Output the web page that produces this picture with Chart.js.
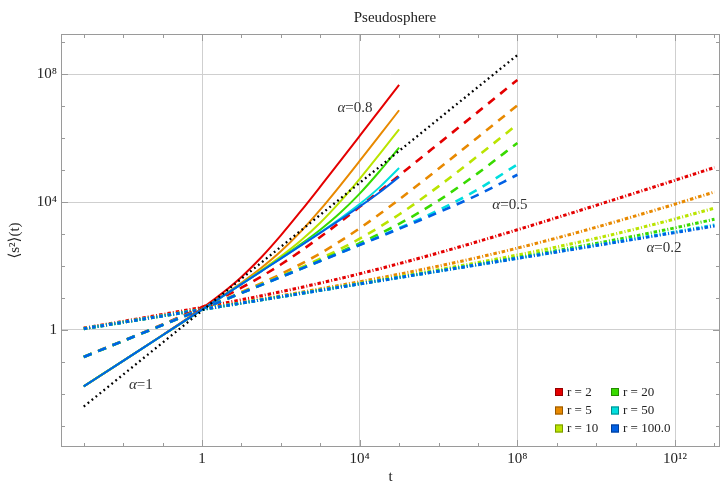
<!DOCTYPE html>
<html>
<head>
<meta charset="utf-8">
<script src="https://cdn.jsdelivr.net/npm/chart.js@4.4.1/dist/chart.umd.min.js"></script>
<style>
html,body{margin:0;padding:0;background:#fff;}
#wrap{width:721px;height:488px;position:relative;}
</style>
</head>
<body>
<div id="wrap"><canvas id="c" width="721" height="488"></canvas></div>
<script>
// ---- data ----
const radii = ['2', '5', '10', '20', '50', '100.0'];
const colors = ['rgb(228,0,0)', 'rgb(232,137,0)', 'rgb(186,228,0)', 'rgb(56,218,0)', 'rgb(0,222,222)', 'rgb(0,96,228)'];
const borderColors = ['rgb(150,0,0)', 'rgb(150,88,0)', 'rgb(120,150,0)', 'rgb(36,140,0)', 'rgb(0,140,140)', 'rgb(0,60,150)'];

// alpha = 0.8 (solid)
const t08 = [0.001, 0.01, 0.1, 1, 3.162, 10, 31.62, 100, 316.2, 1000, 3162, 10000, 31623, 100000];
const s08_r2   = [0.0171, 0.1082, 0.6924, 4.761, 13.73, 45.67, 185.2, 910.2, 5093, 30504, 188368, 1178000, 7409000, 46680000];
const s08_r5   = [0.0171, 0.1079, 0.6826, 4.370, 11.26, 30.07, 86.81, 289.3, 1176, 5787, 32415, 194250, 1200000, 7505000];
const s08_r10  = [0.0171, 0.1079, 0.6812, 4.314, 10.91, 27.84, 72.76, 200.6, 616.0, 2256, 10136, 53670, 312800, 1908000];
const s08_r20  = [0.0171, 0.1079, 0.6808, 4.300, 10.82, 27.29, 69.24, 178.4, 476.1, 1373, 4567, 18520, 91020, 509300];
const s08_r50  = [0.0171, 0.1079, 0.6807, 4.296, 10.79, 27.13, 68.26, 172.2, 437.0, 1126, 3007, 8681, 28927, 117566];
const s08_r100 = [0.0171, 0.1079, 0.6807, 4.295, 10.79, 27.11, 68.12, 171.3, 431.4, 1091, 2784, 7276, 20056, 61604];

// alpha = 0.5 (dashed)
const t05 = [1e-3, 1e-2, 1e-1, 1, 10, 100, 1e3, 1e4, 1e5, 1e6, 1e7, 1e8];
const s05_r2   = [0.1434, 0.4581, 1.494, 5.181, 20.94, 111.8, 809.4, 7118, 68094, 671181, 6681000, 66710000];
const s05_r5   = [0.1428, 0.4525, 1.438, 4.621, 15.34, 55.81, 249.4, 1518, 12094, 111181, 1080900, 10712000];
const s05_r10  = [0.1427, 0.4517, 1.430, 4.541, 14.54, 47.81, 169.4, 718.1, 4094, 31181, 280942, 2711800];
const s05_r20  = [0.1427, 0.4514, 1.428, 4.521, 14.34, 45.81, 149.4, 518.1, 2094, 11181, 80942, 711807];
const s05_r50  = [0.1427, 0.4514, 1.4275, 4.515, 14.28, 45.25, 143.8, 462.1, 1534, 5581, 24942, 151807];
const s05_r100 = [0.1427, 0.4514, 1.4275, 4.514, 14.28, 45.17, 143.0, 454.1, 1454, 4781, 16942, 71807];

// alpha = 0.2 (dot-dashed)
const t02 = [1e-3, 1e-2, 1e-1, 1, 10, 100, 1e3, 1e4, 1e5, 1e6, 1e7, 1e8, 1e9, 1e10, 1e11, 1e12, 1e13];
const s02_r2   = [1.142, 1.853, 3.048, 5.107, 8.791, 15.68, 29.25, 57.41, 118.7, 257.8, 583.5, 1364, 3266, 7950, 19564, 48504, 120822];
const s02_r5   = [1.102, 1.753, 2.797, 4.476, 7.206, 11.70, 19.25, 32.28, 55.58, 99.24, 185.3, 363.9, 753.5, 1638, 3710, 8680, 20788];
const s02_r10  = [1.096, 1.739, 2.761, 4.386, 6.980, 11.13, 17.82, 28.69, 46.57, 76.59, 128.4, 221.0, 394.6, 736.2, 1445, 2990, 6498];
const s02_r20  = [1.0945, 1.735, 2.752, 4.364, 6.923, 10.99, 17.46, 27.79, 44.31, 70.93, 114.2, 185.3, 304.8, 510.7, 879.1, 1568, 2925];
const s02_r50  = [1.094, 1.734, 2.749, 4.357, 6.907, 10.95, 17.36, 27.54, 43.68, 69.34, 110.2, 175.3, 279.7, 447.6, 720.6, 1170, 1925];
const s02_r100 = [1.094, 1.734, 2.749, 4.356, 6.905, 10.94, 17.345, 27.50, 43.59, 69.12, 109.6, 173.9, 276.1, 438.6, 698.0, 1113, 1782];

// alpha = 1 reference (black dotted)
const tRef = [0.001, 0.01, 0.1, 1, 10, 100, 1e3, 1e4, 1e5, 1e6, 1e7, 1e8];
const sRef = [0.004, 0.04, 0.4, 4, 40, 400, 4000, 40000, 400000, 4e6, 4e7, 4e8];

// annotation labels
const alphaTexts = ['0.8', '0.5', '0.2', '1'];
const alphaLabelT = [7586, 6.457e7, 5.248e11, 0.02818];
const alphaLabelS = [8.913e6, 8128, 371.5, 0.01905];

// axis ticks (decade exponents)
const xDecades = [-3,-2,-1,0,1,2,3,4,5,6,7,8,9,10,11,12,13];
const xMajor = [0, 4, 8, 12];
const yDecades = [-3,-2,-1,0,1,2,3,4,5,6,7,8,9];
const yMajor = [0, 4, 8];

// ---- build datasets ----
const toPts = (ts, vs) => ts.map((t, i) => ({x: t, y: vs[i]}));
const groups = [
  {t: t02, series: [s02_r2, s02_r5, s02_r10, s02_r20, s02_r50, s02_r100], dash: [3.5, 2, 1, 2], width: 3},
  {t: t05, series: [s05_r2, s05_r5, s05_r10, s05_r20, s05_r50, s05_r100], dash: [8.5, 7], width: 2.6},
  {t: t08, series: [s08_r2, s08_r5, s08_r10, s08_r20, s08_r50, s08_r100], dash: [], width: 2}
];
const datasets = [];
groups.forEach(g => {
  g.series.forEach((s, i) => {
    datasets.push({
      label: 'r = ' + radii[i],
      data: toPts(g.t, s),
      borderColor: colors[i],
      borderWidth: g.width,
      borderDash: g.dash,
      borderCapStyle: 'butt',
      pointRadius: 0,
      fill: false,
      cubicInterpolationMode: 'monotone'
    });
  });
});
datasets.push({
  label: 'alpha = 1',
  data: toPts(tRef, sRef),
  borderColor: '#000',
  borderWidth: 2.3,
  borderDash: [1.8, 3.3],
  borderCapStyle: 'butt',
  pointRadius: 0,
  fill: false
});
const N = datasets.length;
datasets.forEach((d, i) => { d.order = N - i; });

const supMap = {'0':'⁰','1':'¹','2':'²','3':'³','4':'⁴','5':'⁵','6':'⁶','7':'⁷','8':'⁸','9':'⁹','-':'⁻'};
const powLabel = k => k === 0 ? '1' : '10' + String(k).split('').map(c => supMap[c]).join('');

const SERIF = "'Liberation Serif', 'DejaVu Serif', serif";

const decoPlugin = {
  id: 'deco',
  afterDatasetsDraw(chart) {
    const {ctx, scales: {x, y}} = chart;
    ctx.save();
    ctx.fillStyle = '#333';
    ctx.textBaseline = 'middle';
    alphaTexts.forEach((txt, i) => {
      const px = x.getPixelForValue(alphaLabelT[i]);
      const py = y.getPixelForValue(alphaLabelS[i]);
      ctx.font = 'italic 15px ' + SERIF;
      const w1 = ctx.measureText('α').width;
      ctx.font = '15px ' + SERIF;
      const rest = '=' + txt;
      const w2 = ctx.measureText(rest).width;
      const x0 = px - (w1 + w2) / 2;
      ctx.textAlign = 'left';
      ctx.font = 'italic 15px ' + SERIF;
      ctx.fillText('α', x0, py);
      ctx.font = '15px ' + SERIF;
      ctx.fillText(rest, x0 + w1, py);
    });
    ctx.restore();
  },
  afterDraw(chart) {
    const {ctx, chartArea: a, scales: {x, y}} = chart;
    ctx.save();
    ctx.strokeStyle = '#9a9a9a';
    ctx.lineWidth = 1;
    ctx.beginPath();
    xDecades.forEach(k => {
      const px = Math.round(x.getPixelForValue(Math.pow(10, k))) + 0.5;
      if (px < a.left || px > a.right) return;
      const len = xMajor.includes(k) ? 7 : 4;
      ctx.moveTo(px, a.bottom); ctx.lineTo(px, a.bottom - len);
      ctx.moveTo(px, a.top); ctx.lineTo(px, a.top + len);
    });
    yDecades.forEach(k => {
      const py = Math.round(y.getPixelForValue(Math.pow(10, k))) + 0.5;
      if (py < a.top || py > a.bottom) return;
      const len = yMajor.includes(k) ? 7 : 4;
      ctx.moveTo(a.left, py); ctx.lineTo(a.left + len, py);
      ctx.moveTo(a.right, py); ctx.lineTo(a.right - len, py);
    });
    ctx.stroke();
    ctx.strokeRect(a.left + 0.5, a.top + 0.5, a.right - a.left - 1, a.bottom - a.top - 1);

    // title
    ctx.fillStyle = '#222';
    ctx.font = '15px ' + SERIF;
    ctx.textAlign = 'center';
    ctx.textBaseline = 'middle';
    ctx.fillText('Pseudosphere', 395, 18);

    // legend
    ctx.font = '13px ' + SERIF;
    ctx.textAlign = 'left';
    const colX = [555, 611];
    const rowY = [392, 410.5, 428.5];
    radii.forEach((r, i) => {
      const cx = colX[Math.floor(i / 3)];
      const cy = rowY[i % 3];
      ctx.fillStyle = colors[i];
      ctx.fillRect(cx, cy - 4, 8, 8);
      ctx.strokeStyle = borderColors[i];
      ctx.strokeRect(cx + 0.5, cy - 3.5, 7, 7);
      ctx.fillStyle = '#222';
      ctx.fillText('r = ' + r, cx + 12, cy + 0.5);
    });
    ctx.restore();
  }
};

const gridColor = majors => ctx => (ctx.tick && majors.includes(Math.round(Math.log10(ctx.tick.value)))) ? '#cfcfcf' : 'rgba(0,0,0,0)';

new Chart(document.getElementById('c'), {
  type: 'line',
  data: {datasets},
  options: {
    responsive: false,
    animation: false,
    devicePixelRatio: 1,
    layout: {padding: {left: 0, right: 1, top: 34, bottom: 0}},
    plugins: {legend: {display: false}, title: {display: false}, tooltip: {enabled: false}},
    scales: {
      x: {
        type: 'logarithmic',
        min: Math.pow(10, -3.577),
        max: Math.pow(10, 13.14),
        afterBuildTicks: s => { s.ticks = xDecades.map(k => ({value: Math.pow(10, k)})); },
        afterFit: s => { s.height = 41; },
        grid: {color: gridColor(xMajor), lineWidth: 1, drawTicks: false},
        border: {display: false},
        ticks: {
          autoSkip: false, maxRotation: 0, padding: 3, color: '#222',
          font: {family: SERIF, size: 15},
          callback: v => { const k = Math.round(Math.log10(v)); return xMajor.includes(k) ? powLabel(k) : ''; }
        },
        title: {display: true, text: 't', color: '#222', font: {family: SERIF, size: 15}, padding: {top: 0, bottom: 2}}
      },
      y: {
        type: 'logarithmic',
        min: Math.pow(10, -3.664),
        max: Math.pow(10, 9.262),
        afterBuildTicks: s => { s.ticks = yDecades.map(k => ({value: Math.pow(10, k)})); },
        afterFit: s => { s.width = 61; },
        grid: {color: gridColor(yMajor), lineWidth: 1, drawTicks: false},
        border: {display: false},
        ticks: {
          autoSkip: false, padding: 4, color: '#222',
          font: {family: SERIF, size: 15},
          callback: v => { const k = Math.round(Math.log10(v)); return yMajor.includes(k) ? powLabel(k) : ''; }
        },
        title: {display: true, text: '⟨s²⟩(t)', color: '#222', font: {family: SERIF, size: 15}, padding: {top: 6, bottom: 0}}
      }
    }
  },
  plugins: [decoPlugin]
});
</script>
</body>
</html>
